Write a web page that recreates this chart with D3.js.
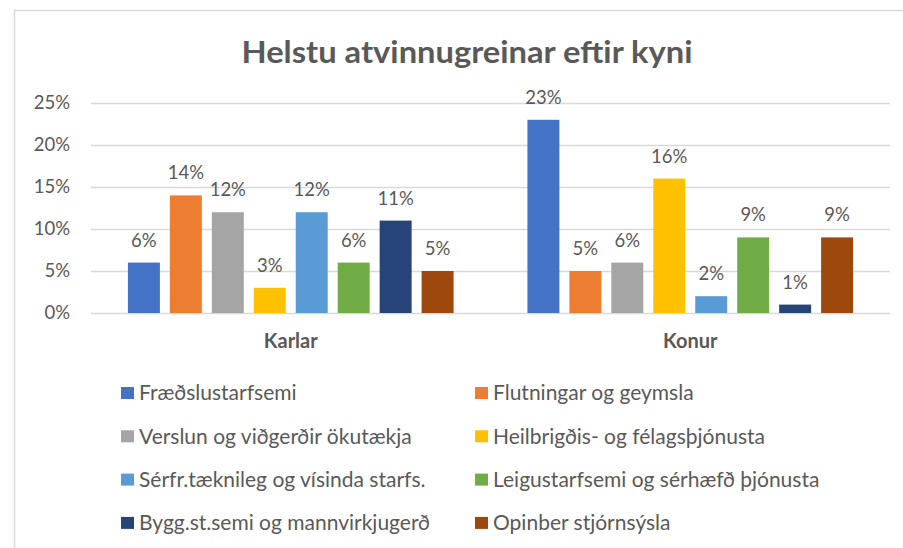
<!DOCTYPE html>
<html>
<head>
<meta charset="utf-8">
<script src="https://cdn.jsdelivr.net/npm/d3@7"></script>
<style>
  body { margin: 0; background: #fff; }
  svg { display: block; font-family: Lato, "Open Sans", sans-serif; }
</style>
</head>
<body>
<svg id="chart" width="903" height="548"></svg>
<script>
// data
const groups = ["Karlar", "Konur"];
const series = [
  "Fræðslustarfsemi",
  "Flutningar og geymsla",
  "Verslun og viðgerðir ökutækja",
  "Heilbrigðis- og félagsþjónusta",
  "Sérfr.tæknileg og vísinda starfs.",
  "Leigustarfsemi og sérhæfð þjónusta",
  "Bygg.st.semi og mannvirkjugerð",
  "Opinber stjórnsýsla"
];
const karlar = [6, 14, 12, 3, 12, 6, 11, 5];
const konur = [23, 5, 6, 16, 2, 9, 1, 9];
const yTicks = [0, 5, 10, 15, 20, 25];
const colors = ["#4472C4", "#ED7D31", "#A5A5A5", "#FFC000", "#5B9BD5", "#70AD47", "#264478", "#9E480E"];

const values = { Karlar: karlar, Konur: konur };
const textColor = "#595959";

const svg = d3.select("#chart");
const width = 903, height = 548;
const margin = { top: 103, right: 13, bottom: 235, left: 91 };

// chart frame
svg.append("path")
    .attr("d", `M14.5,${height} V10.5 H${width}`)
    .attr("fill", "none")
    .attr("stroke", "#d9d9d9")
    .attr("stroke-width", 1.5);

svg.append("text")
    .attr("x", 467)
    .attr("y", 63)
    .attr("text-anchor", "middle")
    .attr("fill", textColor)
    .attr("textLength", 451)
    .attr("lengthAdjust", "spacingAndGlyphs")
    .style("font-size", "31px")
    .style("font-weight", "bold")
    .text("Helstu atvinnugreinar eftir kyni");

const x0 = d3.scaleBand()
    .domain(groups)
    .range([margin.left, width - margin.right]);

const x1 = d3.scaleBand()
    .domain(series)
    .range([0, x0.bandwidth()])
    .paddingInner(0.238)
    .paddingOuter(0.88);

const y = d3.scaleLinear()
    .domain([0, 25])
    .range([height - margin.bottom, margin.top]);

// gridlines
svg.append("g")
    .selectAll("line")
    .data(yTicks)
    .join("line")
    .attr("x1", margin.left)
    .attr("x2", width - margin.right)
    .attr("y1", d => Math.round(y(d)) + 0.5)
    .attr("y2", d => Math.round(y(d)) + 0.5)
    .attr("stroke", "#d9d9d9")
    .attr("stroke-width", 1.5);

// y axis labels
const yAxis = d3.axisLeft(y).tickValues(yTicks).tickFormat(d => d + "%").tickSize(0).tickPadding(0);
svg.append("g")
    .attr("transform", `translate(70,0)`)
    .call(yAxis)
    .call(g => g.select(".domain").remove())
    .selectAll("text")
    .attr("fill", textColor)
    .style("font-size", "18.5px")
    .style("font-family", "Lato, sans-serif");

// bars
const grp = svg.append("g")
    .selectAll("g")
    .data(groups)
    .join("g")
    .attr("transform", d => `translate(${x0(d)},0)`);

grp.selectAll("rect")
    .data(g => series.map((s, i) => ({ s, i, v: values[g][i] })))
    .join("rect")
    .attr("x", d => x1(d.s))
    .attr("width", x1.bandwidth())
    .attr("y", d => y(d.v))
    .attr("height", d => y(0) - y(d.v))
    .attr("fill", d => colors[d.i]);

grp.selectAll("text.val")
    .data(g => series.map((s, i) => ({ s, i, v: values[g][i] })))
    .join("text")
    .attr("class", "val")
    .attr("x", d => x1(d.s) + x1.bandwidth() / 2)
    .attr("y", d => y(d.v) - 16)
    .attr("text-anchor", "middle")
    .attr("fill", textColor)
    .style("font-size", "18.5px")
    .text(d => d.v + "%");

// category labels
svg.append("g")
    .selectAll("text")
    .data(groups)
    .join("text")
    .attr("x", d => x0(d) + x0.bandwidth() / 2)
    .attr("y", 348)
    .attr("text-anchor", "middle")
    .attr("fill", textColor)
    .style("font-size", "20px")
    .style("font-weight", "bold")
    .text(d => d);

// legend, two columns
const legend = svg.append("g")
    .selectAll("g")
    .data(series)
    .join("g")
    .attr("transform", (d, i) => `translate(${i % 2 === 0 ? 121 : 475},${393 + Math.floor(i / 2) * 43.3})`);

legend.append("rect")
    .attr("x", 0)
    .attr("y", -6)
    .attr("width", 13)
    .attr("height", 12)
    .attr("fill", (d, i) => colors[i]);

legend.append("text")
    .attr("x", 18)
    .attr("y", 0)
    .attr("dy", "0.35em")
    .attr("fill", textColor)
    .style("font-size", "21px")
    .text(d => d);
</script>
</body>
</html>
